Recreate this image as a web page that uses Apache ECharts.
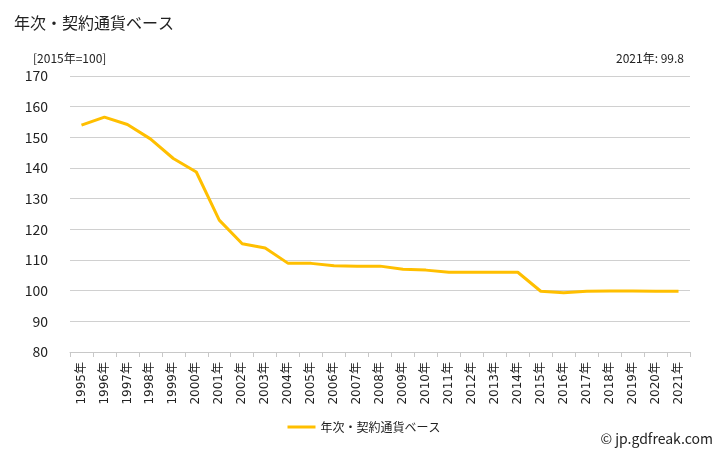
<!DOCTYPE html>
<html>
<head>
<meta charset="utf-8">
<script src="https://cdn.jsdelivr.net/npm/echarts@6/dist/echarts.min.js"></script>
<style>
  html, body { margin: 0; padding: 0; background: #fff; }
  #chart { width: 728px; height: 450px; }
</style>
</head>
<body>
<div id="chart"></div>
<script>
// 年次データ (2015年=100)
const years = ['1995年', '1996年', '1997年', '1998年', '1999年', '2000年', '2001年', '2002年', '2003年',
  '2004年', '2005年', '2006年', '2007年', '2008年', '2009年', '2010年', '2011年', '2012年', '2013年',
  '2014年', '2015年', '2016年', '2017年', '2018年', '2019年', '2020年', '2021年'];
const values = [154.0, 156.6, 154.2, 149.5, 143.1, 138.7, 123.0, 115.3, 113.9,
  108.9, 108.9, 108.1, 108.0, 108.0, 107.0, 106.7, 106.0, 106.0, 106.0,
  106.0, 99.8, 99.3, 99.8, 99.9, 99.9, 99.8, 99.8];
const yTicks = { min: 80, max: 170, interval: 10 };
const seriesName = '年次・契約通貨ベース';

const font = '"Noto Sans CJK JP", "Noto Sans", sans-serif';
const chart = echarts.init(document.getElementById('chart'));

chart.setOption({
  animation: false,
  textStyle: { fontFamily: font },
  title: [
    { text: seriesName, left: 9, top: 10, textStyle: { fontSize: 16, fontWeight: 'normal', color: '#222', fontFamily: font } },
    { text: '[2015年=100]', left: 28, top: 47, textStyle: { fontSize: 12, fontWeight: 'normal', color: '#222', fontFamily: font } },
    { text: years[years.length - 1] + ': ' + values[values.length - 1].toFixed(1), right: 39, top: 47,
      textStyle: { fontSize: 12, fontWeight: 'normal', color: '#222', fontFamily: font } },
    { text: '© jp.gdfreak.com', right: 10, top: 427, textStyle: { fontSize: 14, fontWeight: 'normal', color: '#222', fontFamily: font } }
  ],
  legend: {
    bottom: 12,
    left: 'center',
    itemWidth: 28,
    itemHeight: 3,
    icon: 'rect',
    textStyle: { fontSize: 12, color: '#222', fontFamily: font },
    data: [seriesName]
  },
  grid: { left: 70, right: 38, top: 76, bottom: 98, containLabel: false },
  xAxis: {
    type: 'category',
    data: years,
    boundaryGap: true,
    axisLine: { lineStyle: { color: '#c8c8c8' } },
    axisTick: { show: true, alignWithLabel: false, length: 5, lineStyle: { color: '#c8c8c8' } },
    axisLabel: { rotate: 90, fontSize: 12, color: '#222', interval: 0, margin: 10,
      fontFamily: '"DejaVu Sans", "Noto Sans CJK JP", sans-serif' },
    splitLine: { show: false }
  },
  yAxis: {
    type: 'value',
    min: yTicks.min,
    max: yTicks.max,
    interval: yTicks.interval,
    axisLine: { show: false },
    axisTick: { show: false },
    axisLabel: { fontSize: 14, color: '#222', margin: 22 },
    splitLine: { lineStyle: { color: '#d0d0d0', width: 1 } }
  },
  series: [{
    name: seriesName,
    type: 'line',
    data: values,
    symbol: 'none',
    lineStyle: { color: '#ffbf00', width: 3 },
    itemStyle: { color: '#ffbf00' }
  }]
});
</script>
</body>
</html>
